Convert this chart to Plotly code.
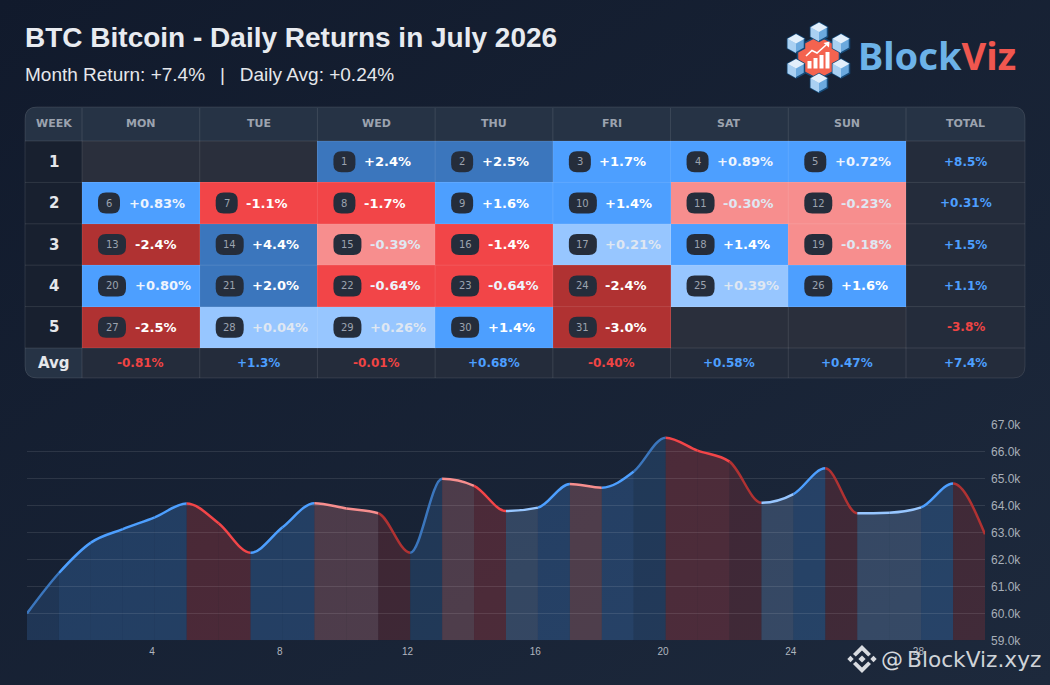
import base64

import plotly.graph_objects as go

CANVAS_WIDTH = 1050
CANVAS_HEIGHT = 685

WEEKDAYS = ["MON", "TUE", "WED", "THU", "FRI", "SAT", "SUN"]
WEEK_LABELS = ["1", "2", "3", "4", "5"]
WEEK_DAYS = [
    [None, None, 1, 2, 3, 4, 5],
    [6, 7, 8, 9, 10, 11, 12],
    [13, 14, 15, 16, 17, 18, 19],
    [20, 21, 22, 23, 24, 25, 26],
    [27, 28, 29, 30, 31, None, None],
]
WEEK_RETURNS = [
    [None, None, "+2.4%", "+2.5%", "+1.7%", "+0.89%", "+0.72%"],
    ["+0.83%", "-1.1%", "-1.7%", "+1.6%", "+1.4%", "-0.30%", "-0.23%"],
    ["-2.4%", "+4.4%", "-0.39%", "-1.4%", "+0.21%", "+1.4%", "-0.18%"],
    ["+0.80%", "+2.0%", "-0.64%", "-0.64%", "-2.4%", "+0.39%", "+1.6%"],
    ["-2.5%", "+0.04%", "+0.26%", "+1.4%", "-3.0%", None, None],
]
WEEK_TOTALS = ["+8.5%", "+0.31%", "+1.5%", "+1.1%", "-3.8%"]
WEEKDAY_AVGS = ["-0.81%", "+1.3%", "-0.01%", "+0.68%", "-0.40%", "+0.58%", "+0.47%"]
MONTH_TOTAL = "+7.4%"

# daily close in thousands
CLOSES = [
    60.0, 61.5, 62.63, 63.13, 63.57, 64.08, 63.35, 62.25, 63.2, 64.09, 63.9,
    63.72, 62.25, 65.0, 64.74, 63.8, 63.93, 64.81, 64.67, 65.27, 66.53, 66.05,
    65.64, 64.11, 64.43, 65.39, 63.72, 63.74, 63.94, 64.83, 62.94,
]
PRICE_TICKS = [59, 60, 61, 62, 63, 64, 65, 66, 67]
DAY_TICKS = [4, 8, 12, 16, 20, 24, 28]
DAY_TICK_SHIFT = 0.085

LEVEL_COLORS = ["#b03232", "#f24548", "#f78e8e", "#97c6ff", "#4d9fff", "#3b76bd", "#2a2f3c"]
LEVEL_FILLS = [
    "rgba(176,50,50,0.25)", "rgba(239,68,68,0.24)", "rgba(247,142,142,0.24)",
    "rgba(151,198,255,0.22)", "rgba(77,159,255,0.23)", "rgba(59,118,189,0.25)",
]
EMPTY_LEVEL = 6
BLUE_TEXT = "#4d9fff"
RED_TEXT = "#ef4444"
HEADER_BG = "#263345"
CELL_BG = "#242c3b"
WEEK_BG = "#18202f"
SEPARATOR = "rgba(255,255,255,0.10)"
MUTED = "#9ca3af"
SANS = "DejaVu Sans"
HELV = "Liberation Sans"

TABLE_LEFT, TABLE_RIGHT = 25, 1025
TABLE_TOP, TABLE_BOTTOM = 107, 378
HEAD_BOTTOM, BODY_BOTTOM = 141, 348
WEEK_RIGHT, TOTAL_LEFT = 82, 906


def px_x(x):
    return x / CANVAS_WIDTH


def px_y(y):
    return 1 - y / CANVAS_HEIGHT


def color_level(text):
    value = float(text.strip("%"))
    size = abs(value)
    if value < 0:
        return 0 if size >= 2 else 1 if size >= 0.5 else 2
    return 5 if size >= 2 else 4 if size >= 0.5 else 3


def add_text(fig, x, y, text, size, color, family=SANS, bold=False, anchor="center"):
    if bold:
        text = f"<b>{text}</b>"
    fig.add_annotation(
        x=px_x(x), y=px_y(y), xref="paper", yref="paper", text=text, showarrow=False,
        xanchor=anchor, yanchor="middle", borderpad=0,
        font=dict(family=family, size=size, color=color),
    )


def add_path(fig, path, fill=None, line=None, width=0, layer="above"):
    fig.add_shape(
        type="path", xref="paper", yref="paper", path=path, layer=layer,
        fillcolor=fill or "rgba(0,0,0,0)", line=dict(color=line or "rgba(0,0,0,0)", width=width),
    )


def px_path(points, close=True):
    parts = [f"{px_x(x):.5f},{px_y(y):.5f}" for x, y in points]
    return "M" + " L".join(parts) + (" Z" if close else "")


def corner_path(left, top, right, bottom, radius_tl=0, radius_tr=0, radius_br=0, radius_bl=0):
    def p(x, y):
        return f"{px_x(x):.5f},{px_y(y):.5f}"

    return (
        f"M{p(left + radius_tl, top)} L{p(right - radius_tr, top)} "
        f"Q{p(right, top)} {p(right, top + radius_tr)} L{p(right, bottom - radius_br)} "
        f"Q{p(right, bottom)} {p(right - radius_br, bottom)} L{p(left + radius_bl, bottom)} "
        f"Q{p(left, bottom)} {p(left, bottom - radius_bl)} L{p(left, top + radius_tl)} "
        f"Q{p(left, top)} {p(left + radius_tl, top)} Z"
    )


def slope_limits(values):
    # same tangents as a monotone-x curve, so the line stays flat at each peak
    slopes = [b - a for a, b in zip(values, values[1:])]
    tangents = [0.0] * len(values)
    for i in range(1, len(values) - 1):
        s0, s1 = slopes[i - 1], slopes[i]
        if s0 * s1 <= 0:
            continue
        sign = 1 if s0 > 0 else -1
        tangents[i] = sign * min(2 * abs(s0), 2 * abs(s1), 0.5 * abs(s0 + s1))
    tangents[0] = (3 * slopes[0] - tangents[1]) / 2
    tangents[-1] = (3 * slopes[-1] - tangents[-2]) / 2
    return tangents


def add_table(fig):
    add_path(fig, corner_path(TABLE_LEFT, TABLE_TOP, TABLE_RIGHT, TABLE_BOTTOM, 12, 12, 12, 12),
             fill=CELL_BG, layer="below")
    add_path(fig, corner_path(TABLE_LEFT, TABLE_TOP, TABLE_RIGHT, HEAD_BOTTOM, 12, 12, 0, 0),
             fill=HEADER_BG, layer="below")
    add_path(fig, corner_path(TABLE_LEFT, HEAD_BOTTOM, WEEK_RIGHT, BODY_BOTTOM), fill=WEEK_BG, layer="below")
    add_path(fig, corner_path(TABLE_LEFT, BODY_BOTTOM, WEEK_RIGHT, TABLE_BOTTOM, 0, 0, 0, 12),
             fill=HEADER_BG, layer="below")

    levels, hover = [], []
    for row in WEEK_RETURNS:
        levels.append([EMPTY_LEVEL if text is None else color_level(text) for text in row])
        hover.append([text or "" for text in row])
    steps = []
    for i, color in enumerate(LEVEL_COLORS):
        steps += [[i / len(LEVEL_COLORS), color], [(i + 1) / len(LEVEL_COLORS), color]]
    fig.add_trace(go.Heatmap(
        z=levels, x=list(range(7)), y=list(range(5)), xaxis="x2", yaxis="y2",
        zmin=0, zmax=len(LEVEL_COLORS), colorscale=steps, showscale=False,
        text=hover, hovertemplate="%{text}<extra></extra>",
    ))

    col_width = (TOTAL_LEFT - WEEK_RIGHT) / 7
    row_height = (BODY_BOTTOM - HEAD_BOTTOM) / 5

    for i in range(8):
        x = WEEK_RIGHT + i * col_width
        add_path(fig, px_path([(x, TABLE_TOP + 1), (x, TABLE_BOTTOM)], close=False), line=SEPARATOR, width=1)
    for i in range(6):
        y = HEAD_BOTTOM + i * row_height
        add_path(fig, px_path([(TABLE_LEFT, y), (TABLE_RIGHT, y)], close=False), line=SEPARATOR, width=1)
    add_path(fig, corner_path(TABLE_LEFT, TABLE_TOP, TABLE_RIGHT, TABLE_BOTTOM, 12, 12, 12, 12),
             line=SEPARATOR, width=1)

    add_text(fig, (TABLE_LEFT + WEEK_RIGHT) / 2, 124, "WEEK", 11, MUTED, bold=True)
    add_text(fig, (TOTAL_LEFT + TABLE_RIGHT) / 2, 124, "TOTAL", 11, MUTED, bold=True)
    add_text(fig, (TABLE_LEFT + WEEK_RIGHT) / 2, 363, "Avg", 15, "#e5e7eb", bold=True)
    add_text(fig, (TOTAL_LEFT + TABLE_RIGHT) / 2, 363, MONTH_TOTAL, 12, BLUE_TEXT, bold=True)

    for col, name in enumerate(WEEKDAYS):
        center = WEEK_RIGHT + (col + 0.5) * col_width
        add_text(fig, center, 124, name, 11, MUTED, bold=True)
        avg = WEEKDAY_AVGS[col]
        add_text(fig, center, 363, avg, 12, RED_TEXT if avg[0] == "-" else BLUE_TEXT, bold=True)

    for row, label in enumerate(WEEK_LABELS):
        middle = HEAD_BOTTOM + (row + 0.5) * row_height
        add_text(fig, (TABLE_LEFT + WEEK_RIGHT) / 2, middle, label, 15, "#e5e7eb", bold=True)
        total = WEEK_TOTALS[row]
        add_text(fig, (TOTAL_LEFT + TABLE_RIGHT) / 2, middle, total, 12,
                 RED_TEXT if total[0] == "-" else BLUE_TEXT, bold=True)
        for col, text in enumerate(WEEK_RETURNS[row]):
            if text is None:
                continue
            add_day_cell(fig, row, col, WEEK_DAYS[row][col], text)


def add_day_cell(fig, row, col, day, text):
    pill_width = 22 if day < 10 else 28
    left, half, r = 16, 10.5, 8
    right = left + pill_width
    path = (
        f"M{left + r},{-half} L{right - r},{-half} Q{right},{-half} {right},{-half + r} "
        f"L{right},{half - r} Q{right},{half} {right - r},{half} L{left + r},{half} "
        f"Q{left},{half} {left},{half - r} L{left},{-half + r} Q{left},{-half} {left + r},{-half} Z"
    )
    fig.add_shape(
        type="path", path=path, xref="x2", yref="y2", xsizemode="pixel", ysizemode="pixel",
        xanchor=col - 0.5, yanchor=row, fillcolor="#252d3b", line=dict(width=0), layer="above",
    )
    fig.add_annotation(
        x=col - 0.5, y=row, xref="x2", yref="y2", text=str(day), showarrow=False, xanchor="center",
        xshift=left + pill_width / 2, borderpad=0, font=dict(family=SANS, size=10, color=MUTED),
    )
    size = abs(float(text.strip("%")))
    color = "#dfe7f2" if size < 0.5 else "#eef4fd" if size < 1 else "#ffffff"
    fig.add_annotation(
        x=col - 0.5, y=row, xref="x2", yref="y2", text=f"<b>{text}</b>", showarrow=False, xanchor="left",
        xshift=right + 7.5, borderpad=0, font=dict(family=SANS, size=13, color=color),
    )


def add_price_chart(fig):
    days = list(range(len(CLOSES)))
    tangents = slope_limits(CLOSES)
    flat_returns = {}
    for row, week in zip(WEEK_DAYS, WEEK_RETURNS):
        for day, text in zip(row, week):
            if day is not None:
                flat_returns[day] = text

    for i in days[:-1]:
        level = color_level(flat_returns[i + 2])
        y0, y1 = CLOSES[i], CLOSES[i + 1]
        curve = f"C{i + 1 / 3},{y0 + tangents[i] / 3} {i + 2 / 3},{y1 - tangents[i + 1] / 3} {i + 1},{y1}"
        fig.add_shape(
            type="path", xref="x", yref="y", layer="below", line=dict(width=0),
            path=f"M{i},{PRICE_TICKS[0]} L{i},{y0} {curve} L{i + 1},{PRICE_TICKS[0]} Z",
            fillcolor=LEVEL_FILLS[level],
        )
        fig.add_shape(
            type="path", xref="x", yref="y", layer="above", path=f"M{i},{y0} {curve}",
            line=dict(color=LEVEL_COLORS[level], width=2.5),
        )

    fig.add_trace(go.Scatter(
        x=days, y=CLOSES, mode="markers", marker=dict(size=8, opacity=0), xaxis="x", yaxis="y",
        hovertemplate="%{y:.2f}k<extra></extra>",
    ))


def add_logo(fig):
    add_text(fig, 857, 55.5, "<span style='color:#6cb2e8'>Block</span><span style='color:#f0574f'>Viz</span>",
             38, "#6cb2e8", family="Noto Sans", bold=True, anchor="left")
    cx, cy = 818.5, 57.5
    add_path(fig, px_path([(cx, cy - 22), (cx + 21, cy - 11), (cx + 21, cy + 11),
                           (cx, cy + 22), (cx - 21, cy + 11), (cx - 21, cy - 11)]),
             fill="#f4634f", line="#164a78", width=1.5)
    for x, y in [(819, 32), (796, 43.5), (841, 43.5), (796, 68.5), (841, 68.5), (819, 83)]:
        r, h = 8.5, 9.5
        add_path(fig, px_path([(x, y - h), (x + r, y - h / 2), (x + r, y + h / 2),
                               (x, y + h), (x - r, y + h / 2), (x - r, y - h / 2)]),
                 fill="#6ba9de", line="#164a78", width=1.5)
        add_path(fig, px_path([(x, y), (x, y + h), (x - r, y + h / 2), (x - r, y - h / 2)]), fill="#a9d0f2")
        add_path(fig, px_path([(x, y - h), (x + r, y - h / 2), (x, y), (x - r, y - h / 2)]), fill="#e2effb")
    for x, top in [(809.5, 61), (815.5, 58), (821.5, 55), (827.5, 52)]:
        add_path(fig, px_path([(x - 2, top), (x + 2, top), (x + 2, 68.5), (x - 2, 68.5)]), fill="#ffffff")
    add_path(fig, px_path([(806, 56), (812, 50.5), (817, 53), (826, 45)], close=False), line="#ffffff", width=1.6)
    add_path(fig, px_path([(829.5, 41.5), (829, 47.5), (823.5, 43)]), fill="#ffffff")


def add_watermark(fig):
    cx, cy = 862, 659
    mark = "#d8dbe0"
    for dx, dy, r in [(0, 0, 3.6), (-11.5, 0, 3.2), (11.5, 0, 3.2)]:
        add_path(fig, px_path([(cx + dx, cy + dy - r), (cx + dx + r, cy + dy),
                               (cx + dx, cy + dy + r), (cx + dx - r, cy + dy)]), fill=mark)
    for sign in (-1, 1):
        add_path(fig, px_path([(cx, cy + sign * 14), (cx + 9, cy + sign * 5), (cx + 6.2, cy + sign * 2.5),
                               (cx, cy + sign * 8.5), (cx - 6.2, cy + sign * 2.5), (cx - 9, cy + sign * 5)]),
                 fill=mark)
    add_text(fig, 880, 659, "@", 22, "#d5d8dd", anchor="left")
    add_text(fig, 906, 659, "BlockViz.xyz", 21.7, "#cfd3d8", anchor="left")


background_svg = (
    "<svg xmlns='http://www.w3.org/2000/svg' width='1050' height='685'>"
    "<defs><linearGradient id='g' x1='0' y1='0' x2='1' y2='1'>"
    "<stop offset='0' stop-color='#111a2c'/><stop offset='1' stop-color='#1d293c'/>"
    "</linearGradient></defs><rect width='1050' height='685' fill='url(#g)'/></svg>"
)

fig = go.Figure()
add_price_chart(fig)
add_table(fig)
add_logo(fig)
add_watermark(fig)

add_text(fig, 24, 38, "BTC Bitcoin - Daily Returns in July 2026", 28, "#e8ebf0", family=HELV, bold=True, anchor="left")
add_text(fig, 24, 75, "Month Return: +7.4%\u2002\u2009\u200a|\u2002\u2009\u200aDaily Avg: +0.24%", 19, "#e5e7eb",
         family=HELV, anchor="left")

fig.update_layout(
    width=CANVAS_WIDTH,
    height=CANVAS_HEIGHT,
    margin=dict(l=0, r=0, t=0, b=0),
    showlegend=False,
    paper_bgcolor="#161f30",
    plot_bgcolor="rgba(0,0,0,0)",
    images=[dict(
        source="data:image/svg+xml;base64," + base64.b64encode(background_svg.encode()).decode(),
        xref="paper", yref="paper", x=0, y=1, sizex=1, sizey=1, sizing="stretch",
        xanchor="left", yanchor="top", layer="below",
    )],
    xaxis=dict(
        domain=[px_x(27), px_x(985)], range=[0, 30], anchor="y", showgrid=False, zeroline=False,
        tickvals=[d - DAY_TICK_SHIFT for d in DAY_TICKS], ticktext=[str(d) for d in DAY_TICKS], ticklabelstandoff=4,
        tickfont=dict(family=HELV, size=10, color="#b0b6bf"), ticks="", ticklen=0, automargin=False,
    ),
    yaxis=dict(
        domain=[px_y(640.3), px_y(425)], range=[PRICE_TICKS[0], PRICE_TICKS[-1]], anchor="x", side="right",
        tickvals=PRICE_TICKS, ticktext=[f"{p}.0k" for p in PRICE_TICKS], ticklabelstandoff=5,
        tickfont=dict(family=HELV, size=12, color="#a8afb8"), gridcolor="rgba(255,255,255,0.10)", gridwidth=1,
        zeroline=False, ticks="", showline=False, automargin=False,
    ),
    xaxis2=dict(
        domain=[px_x(WEEK_RIGHT), px_x(TOTAL_LEFT)], range=[-0.5, 6.5], anchor="y2", visible=False, automargin=False,
    ),
    yaxis2=dict(
        domain=[px_y(BODY_BOTTOM), px_y(HEAD_BOTTOM)], range=[4.5, -0.5], anchor="x2", visible=False, automargin=False,
    ),
)

fig.write_html("out.html", config={"displayModeBar": False}, post_script="document.body.style.margin = '0';")
